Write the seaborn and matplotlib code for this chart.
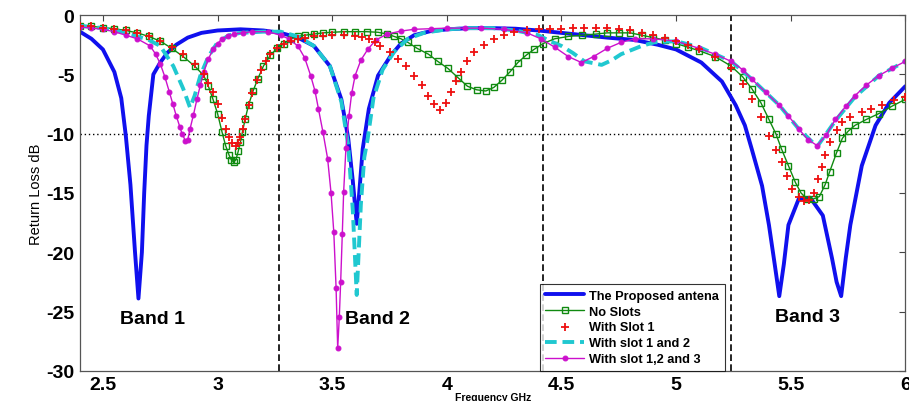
import matplotlib
matplotlib.use("Agg")
import matplotlib.pyplot as plt
import seaborn as sns

# The Proposed antena
f_prop = [2.40, 2.45, 2.50, 2.55, 2.58, 2.60, 2.62, 2.64, 2.655, 2.67, 2.68, 2.69, 2.70, 2.72,
          2.75, 2.78, 2.82, 2.87, 2.93, 3.00, 3.10, 3.20, 3.275, 3.35, 3.42, 3.49, 3.54, 3.57,
          3.59, 3.607, 3.62, 3.633, 3.66, 3.70, 3.756, 3.80, 3.857, 3.93, 4.005, 4.10, 4.20,
          4.30, 4.40, 4.50, 4.60, 4.70, 4.82, 4.92, 5.00, 5.11, 5.20, 5.26, 5.30, 5.33, 5.375,
          5.405, 5.43, 5.45, 5.47, 5.49, 5.535, 5.585, 5.64, 5.68, 5.70, 5.72, 5.74, 5.76, 5.81,
          5.87, 5.93, 6.00]
rl_prop = [-1.4, -2.0, -2.9, -4.8, -7.0, -10.2, -14.3, -20.0, -23.9, -20.0, -15.0, -11.0, -8.5, -5.0,
           -4.0, -3.2, -2.5, -1.9, -1.5, -1.3, -1.2, -1.3, -1.5, -1.9, -2.6, -4.3, -7.1, -10.4,
           -14.0, -17.6, -14.5, -11.3, -7.9, -5.1, -3.4, -2.4, -1.7, -1.35, -1.2, -1.1, -1.1,
           -1.15, -1.3, -1.5, -1.7, -1.9, -2.1, -2.5, -2.9, -4.0, -5.6, -7.6, -9.3, -11.3, -14.4,
           -17.7, -21.0, -23.7, -21.0, -17.7, -15.5, -15.4, -16.9, -20.5, -22.5, -23.7, -20.5, -17.7, -12.7,
           -9.3, -7.4, -6.0]

# No Slots
f_none = [2.40, 2.45, 2.50, 2.55, 2.60, 2.65, 2.70, 2.75, 2.80, 2.85, 2.90, 2.94, 2.96, 2.98, 3.00,
          3.02, 3.035, 3.05, 3.06, 3.07, 3.08, 3.09, 3.10, 3.108, 3.12, 3.135, 3.155, 3.175, 3.20,
          3.23, 3.26, 3.29, 3.32, 3.35, 3.38, 3.42, 3.46, 3.50, 3.55, 3.60, 3.65, 3.70, 3.74,
          3.77, 3.80, 3.83, 3.87, 3.92, 3.96, 4.005, 4.05, 4.09, 4.13, 4.17, 4.205, 4.24, 4.275,
          4.31, 4.345, 4.38, 4.42, 4.47, 4.53, 4.59, 4.65, 4.70, 4.75, 4.80, 4.85, 4.90, 4.95,
          5.00, 5.05, 5.10, 5.17, 5.24, 5.29, 5.33, 5.37, 5.405, 5.435, 5.46, 5.49, 5.52, 5.545,
          5.57, 5.60, 5.625, 5.65, 5.67, 5.70, 5.725, 5.75, 5.78, 5.83, 5.885, 5.94, 6.00]
rl_none = [-0.9, -0.95, -1.05, -1.15, -1.3, -1.5, -1.8, -2.2, -2.8, -3.5, -4.3, -5.1, -6.0, -7.1, -8.3,
           -9.9, -11.0, -11.8, -12.2, -12.4, -12.2, -11.5, -10.7, -9.9, -8.8, -7.6, -6.4, -5.4, -4.3,
           -3.4, -2.8, -2.4, -2.0, -1.8, -1.7, -1.6, -1.5, -1.45, -1.4, -1.4, -1.4, -1.45, -1.6,
           -1.8, -2.0, -2.3, -2.8, -3.3, -3.9, -4.5, -5.3, -6.0, -6.3, -6.4, -6.1, -5.5, -4.8,
           -4.0, -3.4, -2.9, -2.4, -2.0, -1.8, -1.7, -1.6, -1.5, -1.5, -1.5, -1.7, -1.9, -2.1,
           -2.4, -2.7, -3.0, -3.5, -4.3, -5.2, -6.2, -7.4, -8.8, -10.0, -11.3, -12.7, -14.1, -15.0,
           -15.5, -15.5, -15.3, -14.3, -13.2, -11.6, -10.4, -9.8, -9.3, -8.8, -8.3, -7.7, -7.1]

# With Slot 1
f_s1 = [2.40, 2.45, 2.50, 2.55, 2.60, 2.65, 2.70, 2.75, 2.80, 2.85, 2.90, 2.94, 2.96, 2.98, 3.00,
        3.02, 3.035, 3.05, 3.065, 3.08, 3.09, 3.10, 3.11, 3.12, 3.135, 3.15, 3.17, 3.19, 3.21,
        3.23, 3.26, 3.29, 3.32, 3.35, 3.38, 3.42, 3.46, 3.50, 3.55, 3.60, 3.63, 3.66, 3.685,
        3.71, 3.75, 3.786, 3.82, 3.857, 3.89, 3.92, 3.945, 3.97, 3.995, 4.02, 4.04, 4.06, 4.09,
        4.12, 4.16, 4.207, 4.25, 4.295, 4.35, 4.40, 4.45, 4.50, 4.55, 4.60, 4.65, 4.70, 4.75,
        4.80, 4.85, 4.90, 4.95, 5.00, 5.05, 5.10, 5.17, 5.24, 5.29, 5.33, 5.37, 5.405, 5.435,
        5.46, 5.485, 5.505, 5.535, 5.56, 5.58, 5.60, 5.62, 5.635, 5.65, 5.67, 5.70, 5.725, 5.76,
        5.81, 5.85, 5.90, 5.95, 6.00]
rl_s1 = [-0.9, -0.95, -1.05, -1.15, -1.3, -1.5, -1.8, -2.2, -2.7, -3.3, -4.1, -5.0, -5.7, -6.5, -7.5,
         -8.7, -9.6, -10.3, -10.8, -11.0, -10.8, -10.3, -9.6, -8.8, -7.6, -6.6, -5.5, -4.6, -3.9,
         -3.3, -2.8, -2.4, -2.2, -2.0, -1.9, -1.8, -1.75, -1.7, -1.7, -1.75, -1.85, -2.0, -2.3,
         -2.6, -3.1, -3.7, -4.3, -5.1, -5.9, -6.8, -7.5, -8.0, -7.4, -6.5, -5.6, -4.8, -3.9,
         -3.1, -2.5, -2.0, -1.7, -1.4, -1.3, -1.2, -1.2, -1.15, -1.1, -1.1, -1.1, -1.1, -1.2,
         -1.3, -1.5, -1.7, -1.9, -2.2, -2.5, -2.9, -3.5, -4.5, -5.8, -7.1, -8.6, -10.2, -11.4,
         -12.4, -13.6, -14.7, -15.3, -15.7, -15.6, -15.0, -13.8, -12.8, -11.8, -10.7, -9.7, -9.0, -8.6,
         -8.2, -7.9, -7.6, -7.2, -6.9]

# With slot 1 and 2
f_s12 = [2.40, 2.50, 2.60, 2.65, 2.70, 2.75, 2.807, 2.85, 2.88, 2.90, 2.925, 2.96, 3.00, 3.05, 3.10,
         3.20, 3.275, 3.35, 3.42, 3.49, 3.54, 3.57, 3.59, 3.607, 3.625, 3.64, 3.655, 3.68, 3.72,
         3.77, 3.83, 3.90, 4.00, 4.10, 4.20, 4.30, 4.40, 4.45, 4.50, 4.55, 4.60, 4.675, 4.72,
         4.76, 4.85, 4.905, 5.00, 5.10, 5.24, 5.33, 5.45, 5.535, 5.615, 5.695, 5.78, 5.885, 6.00]
rl_s12 = [-0.9, -1.1, -1.5, -1.8, -2.1, -2.6, -4.3, -6.2, -7.8, -6.8, -5.1, -3.5, -2.3, -1.7, -1.5,
          -1.4, -1.4, -1.8, -2.6, -4.3, -7.3, -11.0, -16.5, -23.6, -16.0, -12.0, -10.4, -7.0, -4.6,
          -3.1, -2.0, -1.5, -1.2, -1.1, -1.1, -1.3, -1.7, -2.2, -2.6, -3.2, -3.9, -4.2, -3.8,
          -3.3, -2.6, -2.3, -2.2, -2.7, -3.9, -5.4, -7.6, -9.6, -11.1, -8.9, -6.9, -5.1, -3.9]

# With slot 1,2 and 3
f_s123 = [2.40, 2.45, 2.50, 2.55, 2.60, 2.65, 2.706, 2.73, 2.75, 2.77, 2.79, 2.805, 2.82, 2.835,
          2.845, 2.86, 2.87, 2.88, 2.895, 2.91, 2.925, 2.94, 2.96, 2.98, 3.00, 3.02, 3.045, 3.07,
          3.11, 3.15, 3.22, 3.275, 3.31, 3.35, 3.38, 3.406, 3.425, 3.44, 3.46, 3.48, 3.495, 3.507,
          3.517, 3.524, 3.531, 3.537, 3.544, 3.55, 3.56, 3.573, 3.585, 3.60, 3.625, 3.655, 3.69,
          3.74, 3.80, 3.857, 3.93, 4.00, 4.08, 4.15, 4.25, 4.35, 4.41, 4.47, 4.53, 4.587, 4.64,
          4.70, 4.76, 4.82, 4.90, 5.00, 5.10, 5.17, 5.24, 5.29, 5.33, 5.39, 5.45, 5.49, 5.535,
          5.575, 5.615, 5.655, 5.695, 5.74, 5.78, 5.83, 5.885, 5.94, 6.00]
rl_s123 = [-1.0, -1.1, -1.2, -1.4, -1.7, -2.0, -2.6, -3.3, -4.1, -5.2, -6.5, -7.5, -8.5, -9.4,
           -10.0, -10.6, -10.5, -9.6, -8.4, -7.1, -5.9, -4.8, -3.7, -2.9, -2.4, -2.0, -1.8, -1.6,
           -1.5, -1.4, -1.4, -1.7, -2.0, -2.6, -3.6, -5.1, -6.4, -7.9, -9.9, -12.1, -15.0, -18.3,
           -23.0, -28.1, -25.5, -22.5, -18.5, -14.9, -11.2, -8.5, -6.6, -5.1, -3.8, -2.9, -2.1,
           -1.6, -1.35, -1.2, -1.15, -1.1, -1.1, -1.1, -1.2, -1.5, -2.0, -2.7, -3.5, -4.0, -3.5,
           -2.8, -2.3, -2.0, -2.0, -2.2, -2.8, -3.3, -3.9, -4.6, -5.4, -6.5, -7.6, -8.5, -9.6,
           -10.5, -11.0, -10.1, -8.8, -7.7, -6.8, -5.9, -5.1, -4.5, -3.9]

band_edges = [3.27, 4.42, 5.24]
band_labels = ["Band 1", "Band 2", "Band 3"]
band_pos = [(2.575, -25.6), (3.555, -25.6), (5.43, -25.45)]

sns.set_style("white")
plt.rcParams["font.family"] = ["Liberation Sans", "DejaVu Sans"]
plt.rcParams["text.color"] = "black"
plt.rcParams["axes.labelcolor"] = "black"
plt.rcParams["xtick.color"] = "black"
plt.rcParams["ytick.color"] = "black"

fig, ax = plt.subplots(figsize=(9.09, 4.02), dpi=100)
fig.subplots_adjust(left=0.088, right=0.996, top=0.96, bottom=0.075)

sns.lineplot(x=f_prop, y=rl_prop, ax=ax, color="#1010ee", lw=2.8, label="The Proposed antena")
sns.lineplot(x=f_none, y=rl_none, ax=ax, color="#108a10", lw=1.0, marker="s", ms=5,
             mfc="none", mec="#108a10", mew=1.0, label="No Slots")
sns.scatterplot(x=f_s1, y=rl_s1, ax=ax, color="#ee1010", marker="+", s=40,
                linewidth=1.3, label="With Slot 1", zorder=3)
sns.lineplot(x=f_s12, y=rl_s12, ax=ax, color="#20c8d0", lw=2.8, dashes=(3, 1.5),
             label="With slot 1 and 2")
sns.lineplot(x=f_s123, y=rl_s123, ax=ax, color="#cc10cc", lw=1.0, marker="o", ms=3.5,
             mfc="#cc10cc", mec="#cc10cc", label="With slot 1,2 and 3")

for xe in band_edges:
    ax.axvline(xe, color="black", lw=1.2, ls=(0, (4, 2)), zorder=1)
ax.axhline(-10, color="black", lw=1.0, ls=(0, (1, 2)), zorder=1)

for lab, (bx, by) in zip(band_labels, band_pos):
    ax.text(bx, by, lab, fontsize=14, fontweight="bold", ha="left", va="center")

ax.set_xlim(2.4, 6.0)
ax.set_ylim(-30, 0)
ax.set_xticks([2.5, 3, 3.5, 4, 4.5, 5, 5.5, 6])
ax.set_xticklabels(["2.5", "3", "3.5", "4", "4.5", "5", "5.5", "6"])
ax.set_yticks([0, -5, -10, -15, -20, -25, -30])
ax.set_yticklabels(["0", "-5", "-10", "-15", "-20", "-25", "-30"])
ax.tick_params(direction="in", length=4, top=True, right=True, labelsize=14, pad=4,
               color="#444444", labelcolor="black")
for t in ax.get_xticklabels() + ax.get_yticklabels():
    t.set_fontweight("bold")
for s in ax.spines.values():
    s.set_color("#555555")
    s.set_linewidth(0.9)

ax.set_xlabel("Frequency GHz", fontsize=7.5, fontweight="bold", labelpad=-1)
ax.set_ylabel("Return Loss dB", fontsize=10.5,
              family=["Liberation Sans Narrow", "Liberation Sans"], labelpad=2)

leg = ax.legend(loc="lower left", bbox_to_anchor=(0.557, 0.0), borderaxespad=0,
                prop={"weight": "bold", "size": 9.2}, frameon=True, fancybox=False,
                handlelength=3.0, labelspacing=0.3, borderpad=0.45, handletextpad=0.4)
leg.get_frame().set_edgecolor("black")
leg.get_frame().set_linewidth(0.8)

fig.savefig("out.png", dpi=100)
